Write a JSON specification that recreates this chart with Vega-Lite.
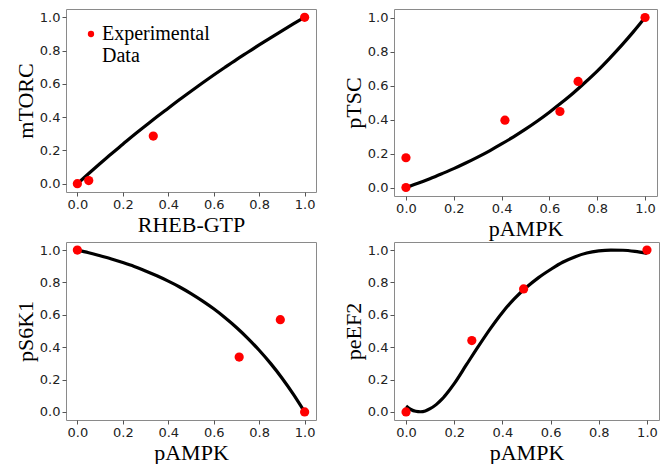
{
  "$schema": "https://vega.github.io/schema/vega-lite/v6.json",
  "padding": {"left": 13, "top": 8, "right": 0, "bottom": 0},
  "background": "white",
  "config": {
    "view": {"stroke": "#8a8a8a", "strokeWidth": 1},
    "axis": {
      "grid": false,
      "domain": false,
      "tickColor": "#555555",
      "tickSize": 4,
      "labelFont": "DejaVu Sans",
      "labelFontSize": 13,
      "labelColor": "#222222",
      "labelPadding": 2,
      "titleFont": "Liberation Serif",
      "titleFontSize": 22,
      "titleFontWeight": "normal",
      "titleColor": "#000000"
    },
    "axisX": {"titlePadding": 3},
    "axisY": {"titlePadding": 2}
  },
  "datasets": {
    "c1": [
      {"x": 0.01, "y": 0.012}, {"x": 0.05, "y": 0.061}, {"x": 0.1, "y": 0.121}, {"x": 0.15, "y": 0.18},
      {"x": 0.2, "y": 0.237}, {"x": 0.25, "y": 0.294}, {"x": 0.3, "y": 0.348}, {"x": 0.35, "y": 0.402},
      {"x": 0.4, "y": 0.454}, {"x": 0.45, "y": 0.506}, {"x": 0.5, "y": 0.556}, {"x": 0.55, "y": 0.605},
      {"x": 0.6, "y": 0.653}, {"x": 0.65, "y": 0.7}, {"x": 0.7, "y": 0.746}, {"x": 0.75, "y": 0.79},
      {"x": 0.8, "y": 0.834}, {"x": 0.85, "y": 0.877}, {"x": 0.9, "y": 0.919}, {"x": 0.95, "y": 0.96},
      {"x": 1.0, "y": 1.0}
    ],
    "p1": [
      {"x": 0.0, "y": 0.0, "s": "Experimental Data"},
      {"x": 0.05, "y": 0.019, "s": "Experimental Data"},
      {"x": 0.334, "y": 0.286, "s": "Experimental Data"},
      {"x": 1.0, "y": 1.0, "s": "Experimental Data"}
    ],
    "c2": [
      {"x": 0.0, "y": 0.0}, {"x": 0.05, "y": 0.025}, {"x": 0.1, "y": 0.052}, {"x": 0.15, "y": 0.081},
      {"x": 0.2, "y": 0.111}, {"x": 0.25, "y": 0.144}, {"x": 0.3, "y": 0.179}, {"x": 0.35, "y": 0.216},
      {"x": 0.4, "y": 0.256}, {"x": 0.45, "y": 0.298}, {"x": 0.5, "y": 0.343}, {"x": 0.55, "y": 0.391},
      {"x": 0.6, "y": 0.443}, {"x": 0.65, "y": 0.498}, {"x": 0.7, "y": 0.556}, {"x": 0.75, "y": 0.619},
      {"x": 0.8, "y": 0.685}, {"x": 0.85, "y": 0.757}, {"x": 0.9, "y": 0.833}, {"x": 0.95, "y": 0.914},
      {"x": 1.0, "y": 1.0}
    ],
    "p2": [
      {"x": 0.0, "y": 0.175}, {"x": 0.0, "y": 0.0}, {"x": 0.414, "y": 0.396},
      {"x": 0.644, "y": 0.447}, {"x": 0.72, "y": 0.624}, {"x": 1.0, "y": 1.0}
    ],
    "c3": [
      {"x": 0.0, "y": 1.0}, {"x": 0.05, "y": 0.984}, {"x": 0.1, "y": 0.965}, {"x": 0.15, "y": 0.945},
      {"x": 0.2, "y": 0.923}, {"x": 0.25, "y": 0.899}, {"x": 0.3, "y": 0.871}, {"x": 0.35, "y": 0.841},
      {"x": 0.4, "y": 0.808}, {"x": 0.45, "y": 0.772}, {"x": 0.5, "y": 0.731}, {"x": 0.55, "y": 0.686},
      {"x": 0.6, "y": 0.637}, {"x": 0.65, "y": 0.582}, {"x": 0.7, "y": 0.522}, {"x": 0.75, "y": 0.455},
      {"x": 0.8, "y": 0.381}, {"x": 0.85, "y": 0.3}, {"x": 0.9, "y": 0.21}, {"x": 0.95, "y": 0.11},
      {"x": 1.0, "y": 0.0}
    ],
    "p3": [
      {"x": 0.0, "y": 1.0}, {"x": 0.712, "y": 0.339}, {"x": 0.893, "y": 0.57}, {"x": 1.0, "y": 0.0}
    ],
    "c4": [
      {"x": 0.0, "y": 0.037}, {"x": 0.02, "y": 0.015}, {"x": 0.04, "y": 0.004}, {"x": 0.06, "y": 0.001},
      {"x": 0.08, "y": 0.006}, {"x": 0.1, "y": 0.02}, {"x": 0.125, "y": 0.045}, {"x": 0.15, "y": 0.08},
      {"x": 0.175, "y": 0.125}, {"x": 0.2, "y": 0.175}, {"x": 0.25, "y": 0.29}, {"x": 0.3, "y": 0.405},
      {"x": 0.35, "y": 0.515}, {"x": 0.4, "y": 0.615}, {"x": 0.45, "y": 0.7}, {"x": 0.5, "y": 0.77},
      {"x": 0.55, "y": 0.83}, {"x": 0.6, "y": 0.88}, {"x": 0.65, "y": 0.925}, {"x": 0.7, "y": 0.958},
      {"x": 0.75, "y": 0.982}, {"x": 0.8, "y": 0.995}, {"x": 0.85, "y": 1.0}, {"x": 0.9, "y": 0.999},
      {"x": 0.95, "y": 0.992}, {"x": 1.0, "y": 0.98}
    ],
    "p4": [
      {"x": 0.0, "y": 0.0}, {"x": 0.273, "y": 0.441}, {"x": 0.488, "y": 0.76}, {"x": 1.0, "y": 1.0}
    ]
  },
  "columns": 2,
  "align": "each",
  "spacing": {"row": 1, "column": 24},
  "resolve": {"scale": {"x": "independent", "y": "independent", "color": "independent"}},
  "concat": [
    {
      "width": 250, "height": 183,
      "encoding": {
        "x": {"field": "x", "type": "quantitative", "scale": {"domain": [-0.05, 1.05], "nice": false, "zero": false}, "axis": {"title": "RHEB-GTP", "values": [0, 0.2, 0.4, 0.6, 0.8, 1.0], "format": ".1f"}},
        "y": {"field": "y", "type": "quantitative", "scale": {"domain": [-0.05, 1.05], "nice": false, "zero": false}, "axis": {"title": "mTORC", "values": [0, 0.2, 0.4, 0.6, 0.8, 1.0], "format": ".1f"}}
      },
      "layer": [
        {"data": {"name": "c1"}, "mark": {"type": "line", "color": "#000000", "strokeWidth": 3.2, "interpolate": "monotone"}},
        {"data": {"name": "p1"}, "mark": {"type": "point", "filled": true, "size": 85, "opacity": 1},
         "encoding": {"color": {"field": "s", "type": "nominal", "scale": {"range": ["#ff0000"]},
           "legend": {"orient": "top-left", "offset": 15, "title": null, "padding": 0, "symbolType": "circle", "symbolSize": 40, "symbolStrokeWidth": 0, "symbolOpacity": 1,
             "labelFont": "Liberation Serif", "labelFontSize": 20, "labelColor": "#000000", "labelLimit": 300, "labelOffset": 1,
             "labelExpr": "['Experimental', 'Data']"}}}}
      ]
    },
    {
      "width": 263, "height": 187,
      "encoding": {
        "x": {"field": "x", "type": "quantitative", "scale": {"domain": [-0.05, 1.05], "nice": false, "zero": false}, "axis": {"title": "pAMPK", "values": [0, 0.2, 0.4, 0.6, 0.8, 1.0], "format": ".1f"}},
        "y": {"field": "y", "type": "quantitative", "scale": {"domain": [-0.05, 1.05], "nice": false, "zero": false}, "axis": {"title": "pTSC", "values": [0, 0.2, 0.4, 0.6, 0.8, 1.0], "format": ".1f"}}
      },
      "layer": [
        {"data": {"name": "c2"}, "mark": {"type": "line", "color": "#000000", "strokeWidth": 3.2, "interpolate": "monotone"}},
        {"data": {"name": "p2"}, "mark": {"type": "point", "filled": true, "size": 85, "opacity": 1, "color": "#ff0000"}}
      ]
    },
    {
      "width": 250, "height": 178,
      "encoding": {
        "x": {"field": "x", "type": "quantitative", "scale": {"domain": [-0.05, 1.05], "nice": false, "zero": false}, "axis": {"title": "pAMPK", "values": [0, 0.2, 0.4, 0.6, 0.8, 1.0], "format": ".1f"}},
        "y": {"field": "y", "type": "quantitative", "scale": {"domain": [-0.05, 1.05], "nice": false, "zero": false}, "axis": {"title": "pS6K1", "values": [0, 0.2, 0.4, 0.6, 0.8, 1.0], "format": ".1f"}}
      },
      "layer": [
        {"data": {"name": "c3"}, "mark": {"type": "line", "color": "#000000", "strokeWidth": 3.2, "interpolate": "monotone"}},
        {"data": {"name": "p3"}, "mark": {"type": "point", "filled": true, "size": 85, "opacity": 1, "color": "#ff0000"}}
      ]
    },
    {
      "width": 265, "height": 178,
      "encoding": {
        "x": {"field": "x", "type": "quantitative", "scale": {"domain": [-0.05, 1.05], "nice": false, "zero": false}, "axis": {"title": "pAMPK", "values": [0, 0.2, 0.4, 0.6, 0.8, 1.0], "format": ".1f"}},
        "y": {"field": "y", "type": "quantitative", "scale": {"domain": [-0.05, 1.05], "nice": false, "zero": false}, "axis": {"title": "peEF2", "values": [0, 0.2, 0.4, 0.6, 0.8, 1.0], "format": ".1f"}}
      },
      "layer": [
        {"data": {"name": "c4"}, "mark": {"type": "line", "color": "#000000", "strokeWidth": 3.2, "interpolate": "monotone"}},
        {"data": {"name": "p4"}, "mark": {"type": "point", "filled": true, "size": 85, "opacity": 1, "color": "#ff0000"}}
      ]
    }
  ]
}
